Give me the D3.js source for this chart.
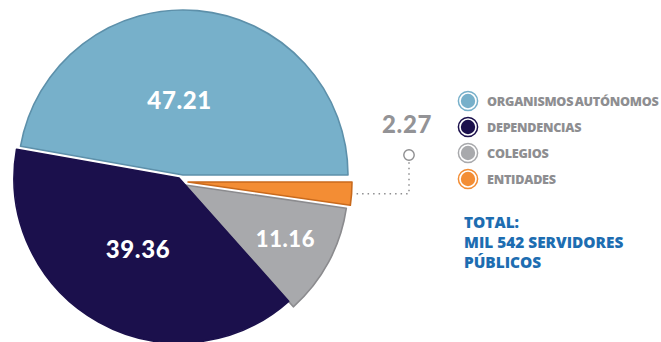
<!DOCTYPE html>
<html>
<head>
<meta charset="utf-8">
<script src="https://cdn.jsdelivr.net/npm/d3@7/dist/d3.min.js"></script>
<style>
  html, body { margin: 0; padding: 0; background: #ffffff; }
  svg { display: block; }
</style>
</head>
<body>
<svg id="chart" width="661" height="342"></svg>
<script>
// Servidores públicos por tipo de institución (porcentaje)
const categories = ["ENTIDADES", "COLEGIOS", "DEPENDENCIAS", "ORGANISMOS AUTÓNOMOS"];
const values = [2.27, 11.16, 39.36, 47.21];
const valueLabels = ["2.27", "11.16", "39.36", "47.21"];
const legendOrder = ["ORGANISMOS AUTÓNOMOS", "DEPENDENCIAS", "COLEGIOS", "ENTIDADES"];
const totalLines = ["TOTAL:", "MIL 542 SERVIDORES", "PÚBLICOS"];

// Styling per category
const fills = {
  "ORGANISMOS AUTÓNOMOS": "#77b0ca",
  "DEPENDENCIAS": "#1b104c",
  "COLEGIOS": "#a8a9ac",
  "ENTIDADES": "#f38d34"
};
const outlines = {
  "ORGANISMOS AUTÓNOMOS": "#5d90aa",
  "DEPENDENCIAS": "#1b104c",
  "COLEGIOS": "#8b8b8e",
  "ENTIDADES": "#c96a1c"
};
// Slice displacement (exploded layout)
const shift = {
  "ORGANISMOS AUTÓNOMOS": [0, 0],
  "DEPENDENCIAS": [-4, 3],
  "COLEGIOS": [2, 10],
  "ENTIDADES": [5, 7]
};
const radii = {
  "ORGANISMOS AUTÓNOMOS": 165,
  "DEPENDENCIAS": 165,
  "COLEGIOS": 163,
  "ENTIDADES": 164
};
// Label distance from slice origin, plus a small nudge
const labelRadius = {
  "ORGANISMOS AUTÓNOMOS": 75,
  "DEPENDENCIAS": 82,
  "COLEGIOS": 114
};
const labelNudge = {
  "ORGANISMOS AUTÓNOMOS": [-10, 0],
  "DEPENDENCIAS": [-1, 0],
  "COLEGIOS": [0, 0]
};

const svg = d3.select("#chart");
const cx = 183, cy = 175;

const pie = d3.pie()
  .sort(null)
  .value(d => d.value)
  .startAngle(Math.PI / 2)
  .endAngle(Math.PI / 2 + 2 * Math.PI);

const data = categories.map((c, i) => ({ cat: c, value: values[i], label: valueLabels[i] }));
const arcs = pie(data);

const g = svg.append("g").attr("transform", `translate(${cx},${cy})`);

const slices = g.selectAll("g.slice")
  .data(arcs)
  .join("g")
  .attr("class", "slice")
  .attr("transform", d => `translate(${shift[d.data.cat][0]},${shift[d.data.cat][1]})`);

slices.append("path")
  .attr("d", d => d3.arc().innerRadius(0).outerRadius(radii[d.data.cat])(d))
  .attr("fill", d => fills[d.data.cat])
  .attr("stroke", d => outlines[d.data.cat])
  .attr("stroke-width", 1.6)
  .attr("stroke-linejoin", "round");

// Values inside the larger slices
slices.filter(d => labelRadius[d.data.cat] !== undefined)
  .append("text")
  .attr("transform", d => {
    const r = labelRadius[d.data.cat];
    const [x, y] = d3.arc().innerRadius(r).outerRadius(r).centroid(d);
    const [nx, ny] = labelNudge[d.data.cat];
    return `translate(${x + nx},${y + ny})`;
  })
  .attr("text-anchor", "middle")
  .attr("dy", "0.36em")
  .attr("fill", "#ffffff")
  .attr("font-family", "Lato, 'Open Sans', sans-serif")
  .attr("font-weight", 900)
  .attr("font-size", d => d.data.cat === "COLEGIOS" ? 22 : 24)
  .attr("letter-spacing", 0.6)
  .text(d => d.data.label);

// Callout for the smallest slice
const small = arcs.find(d => d.data.cat === "ENTIDADES");
const smallShift = shift[small.data.cat];
const edgeAngle = (small.startAngle + small.endAngle) / 2;
const edgeR = radii[small.data.cat] + 1;
const ex = smallShift[0] + Math.sin(edgeAngle) * edgeR;
const ey = smallShift[1] - Math.cos(edgeAngle) * edgeR;
const calloutX = 226, dotY = -20, textY = -42;

g.append("path")
  .attr("d", `M${ex + 4},${ey} H${calloutX} V${dotY + 6}`)
  .attr("fill", "none")
  .attr("stroke", "#8e8e90")
  .attr("stroke-width", 1.5)
  .attr("stroke-dasharray", "1.5,4");

g.append("circle")
  .attr("cx", calloutX)
  .attr("cy", dotY)
  .attr("r", 5.2)
  .attr("fill", "#ffffff")
  .attr("stroke", "#8e8e90")
  .attr("stroke-width", 1.4);

g.append("text")
  .attr("x", calloutX - 2)
  .attr("y", textY)
  .attr("text-anchor", "middle")
  .attr("fill", "#939396")
  .attr("font-family", "Lato, 'Open Sans', sans-serif")
  .attr("font-weight", 900)
  .attr("font-size", 24)
  .attr("letter-spacing", 0.6)
  .text(small.data.label);

// Legend
const legendY = d3.scalePoint().domain(legendOrder).range([101, 179]);
const legend = svg.append("g")
  .selectAll("g")
  .data(legendOrder)
  .join("g")
  .attr("transform", d => `translate(468,${legendY(d)})`);

legend.append("circle")
  .attr("r", 9.6)
  .attr("fill", "#ffffff")
  .attr("stroke", d => fills[d])
  .attr("stroke-width", 1.5);

legend.append("circle")
  .attr("r", 7.2)
  .attr("fill", d => fills[d]);

legend.append("text")
  .attr("x", 19)
  .attr("dy", "0.37em")
  .attr("fill", "#8e8e91")
  .attr("font-family", "'Open Sans', Lato, sans-serif")
  .attr("font-weight", 800)
  .attr("font-size", 12.6)
  .attr("letter-spacing", -0.25)
  .attr("word-spacing", -1.5)
  .text(d => d);

// Total
svg.append("g")
  .selectAll("text")
  .data(totalLines)
  .join("text")
  .attr("x", 464)
  .attr("y", (d, i) => 228 + i * 20)
  .attr("fill", "#1d6db1")
  .attr("font-family", "'Open Sans', Lato, sans-serif")
  .attr("font-weight", 800)
  .attr("font-size", 15.4)
  .text(d => d);
</script>
</body>
</html>
